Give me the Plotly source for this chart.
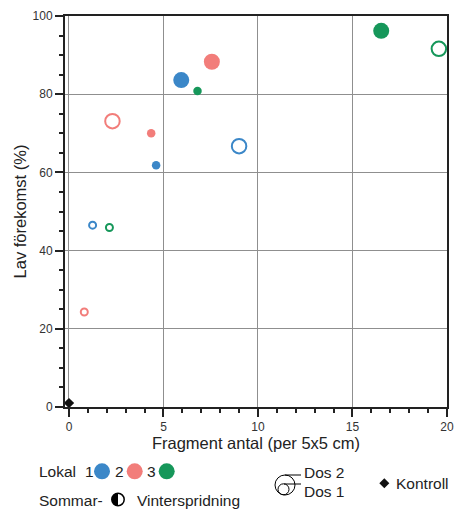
import plotly.graph_objects as go

# ---- data ----
lokal_names = ["1", "2", "3"]
lokal_colors = ["#3b87c8", "#f27d7a", "#16975a"]

# Sommarspridning (filled), Dos 2 (large) / Dos 1 (small)
sommar_dos2_x = [5.94, 7.56, 16.52]
sommar_dos2_y = [83.6, 88.3, 96.2]
sommar_dos1_x = [4.61, 4.35, 6.8]
sommar_dos1_y = [61.8, 70.0, 80.8]
# Vinterspridning (open)
vinter_dos2_x = [9.0, 2.3, 19.57]
vinter_dos2_y = [66.7, 73.1, 91.6]
vinter_dos1_x = [1.25, 0.81, 2.14]
vinter_dos1_y = [46.5, 24.3, 45.9]
# Kontroll
kontroll_x = [0]
kontroll_y = [1]

FONT = "Liberation Sans, Arial, sans-serif"
TXT = "#222222"

fig = go.Figure()

fig.add_trace(go.Scatter(x=sommar_dos2_x, y=sommar_dos2_y, mode="markers",
                         marker=dict(size=16, color=lokal_colors, line=dict(width=0)),
                         cliponaxis=False, showlegend=False))
fig.add_trace(go.Scatter(x=sommar_dos1_x, y=sommar_dos1_y, mode="markers",
                         marker=dict(size=8.5, color=lokal_colors, line=dict(width=0)),
                         cliponaxis=False, showlegend=False))
fig.add_trace(go.Scatter(x=vinter_dos2_x, y=vinter_dos2_y, mode="markers",
                         marker=dict(size=14.5, symbol="circle-open", color=lokal_colors,
                                     line=dict(width=2, color=lokal_colors)),
                         cliponaxis=False, showlegend=False))
fig.add_trace(go.Scatter(x=vinter_dos1_x, y=vinter_dos1_y, mode="markers",
                         marker=dict(size=7, symbol="circle-open", color=lokal_colors,
                                     line=dict(width=2, color=lokal_colors)),
                         cliponaxis=False, showlegend=False))
fig.add_trace(go.Scatter(x=kontroll_x, y=kontroll_y, mode="markers",
                         marker=dict(size=8, symbol="diamond", color="#111111"),
                         cliponaxis=False, showlegend=False))

# plot area in page pixels
W, H = 454, 509
L, R, T, B = 65, 447, 16, 407


def px(x):
    return (x - L) / (R - L)


def py(y):
    return (B - y) / (B - T)


shapes = []
annotations = []


def text(s, x, y, size=15.5):
    annotations.append(dict(text=s, x=px(x), y=py(y), xref="paper", yref="paper",
                            xanchor="left", yanchor="middle", showarrow=False,
                            font=dict(family=FONT, size=size, color=TXT)))


def circle(cx, cy, r, fill=None, line_color=None, lw=1.5):
    shapes.append(dict(type="circle", xref="paper", yref="paper",
                       x0=px(cx - r), x1=px(cx + r), y0=py(cy + r), y1=py(cy - r),
                       fillcolor=fill if fill else "rgba(0,0,0,0)",
                       line=dict(color=line_color if line_color else "rgba(0,0,0,0)",
                                 width=lw if line_color else 0)))


def P(x, y):
    return f"{px(x):.5f},{py(y):.5f}"


# Lokal legend
text("Lokal", 37, 471.5)
for name, lx, cx, col in zip(lokal_names, [82.5, 113, 145], [102, 134.7, 166.7], lokal_colors):
    text(name, lx, 471.5)
    circle(cx, 471.3, 8, fill=col)

# Sommar- / Vinterspridning
text("Sommar-", 37, 500)
text("Vinterspridning", 134.5, 500)
cx, cy, r = 118, 499.5, 6.2
k = 0.5523
half = ("M " + P(cx, cy - r) + " C " + P(cx - k * r, cy - r) + " " + P(cx - r, cy - k * r) + " " +
        P(cx - r, cy) + " C " + P(cx - r, cy + k * r) + " " + P(cx - k * r, cy + r) + " " +
        P(cx, cy + r) + " Z")
shapes.append(dict(type="path", path=half, xref="paper", yref="paper",
                   fillcolor="#000000", line=dict(width=0)))
circle(cx, cy, r, line_color="#000000", lw=1.5)

# Dos legend
circle(285, 485, 10, line_color="#000000", lw=1)
circle(283.5, 489.3, 5.5, line_color="#000000", lw=1)
shapes.append(dict(type="line", xref="paper", yref="paper",
                   x0=px(285), x1=px(301), y0=py(475), y1=py(475),
                   line=dict(color="#000000", width=1)))
shapes.append(dict(type="line", xref="paper", yref="paper",
                   x0=px(284), x1=px(301), y0=py(484), y1=py(484),
                   line=dict(color="#000000", width=1)))
text("Dos 2", 302, 472.5)
text("Dos 1", 302, 491.5)

# Kontroll
dx, dy, d = 384.3, 483.3, 5
diamond = "M " + P(dx, dy - d) + " L " + P(dx + d, dy) + " L " + P(dx, dy + d) + " L " + P(dx - d, dy) + " Z"
shapes.append(dict(type="path", path=diamond, xref="paper", yref="paper",
                   fillcolor="#111111", line=dict(width=0)))
text("Kontroll", 394, 483.5)

axis_common = dict(
    automargin=False,
    showline=True, linecolor="#222222", linewidth=2, mirror=True,
    showgrid=True, gridcolor="#8f8f8f", gridwidth=1, zeroline=False,
    ticks="outside", ticklen=8, tickwidth=1.5, tickcolor="#222222",
    tickfont=dict(family=FONT, size=12, color="#333333"),
)

fig.update_layout(
    width=W, height=H,
    margin=dict(l=L, r=W - R, t=T, b=H - B, autoexpand=False),
    paper_bgcolor="white", plot_bgcolor="white",
    font=dict(family=FONT, color=TXT),
    shapes=shapes, annotations=annotations,
    xaxis=dict(range=[-0.21, 20], tickvals=[0, 5, 10, 15, 20],
               minor=dict(dtick=1, ticks="outside", ticklen=4, tickcolor="#222222", showgrid=False),
               title=dict(text="Fragment antal (per 5x5 cm)", font=dict(family=FONT, size=16.5, color=TXT),
                          standoff=1),
               **axis_common),
    yaxis=dict(range=[0, 100], tickvals=[0, 20, 40, 60, 80, 100],
               minor=dict(dtick=5, ticks="outside", ticklen=4, tickcolor="#222222", showgrid=False),
               title=dict(text="Lav förekomst (%)", font=dict(family=FONT, size=16.5, color=TXT),
                          standoff=2),
               **axis_common),
)

fig.write_html("out.html", config={"displayModeBar": False},
               post_script="document.body.style.margin='0';document.body.style.overflow='hidden';")
